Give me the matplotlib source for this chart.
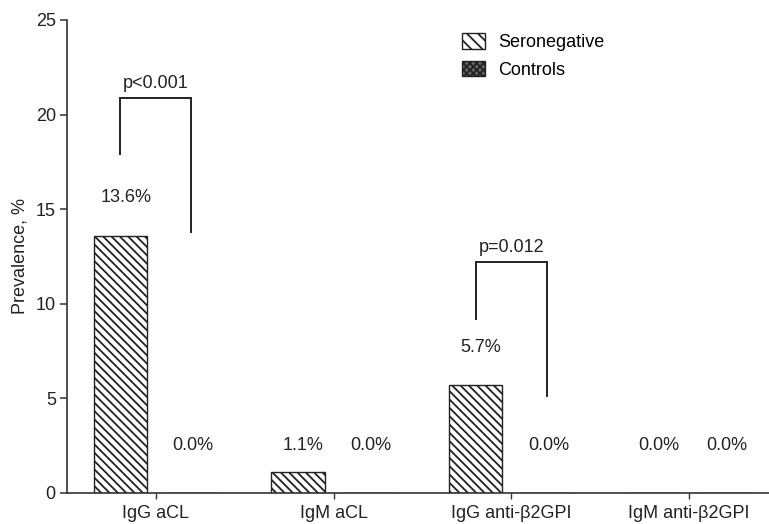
import numpy as np
import matplotlib
matplotlib.use("Agg")
import matplotlib.pyplot as plt
from matplotlib.patches import Patch

plt.rcParams['font.family'] = ['Liberation Sans', 'DejaVu Sans']
plt.rcParams['hatch.linewidth'] = 1.3
plt.rcParams['hatch.color'] = '#1a1a1a'

# data
categories = ['IgG aCL', 'IgM aCL', 'IgG anti-\u03b22GPI', 'IgM anti-\u03b22GPI']
seronegative = [13.6, 1.1, 5.7, 0.0]
controls = [0.0, 0.0, 0.0, 0.0]
# significance brackets: (category index, p label, top, left end, right end)
brackets = [
    (0, 'p<0.001', 20.9, 17.9, 13.8),
    (2, 'p=0.012', 12.2, 9.2, 5.1),
]

ink = '#222222'
fs = 13
fig = plt.figure(figsize=(7.69, 5.24), dpi=100)
ax = fig.add_axes([0.0871, 0.0592, 0.9129, 0.9027])

x = np.arange(len(categories))
off = 0.2
w = 0.3
ax.bar(x - off, seronegative, w, facecolor='white', edgecolor=ink,
       hatch='\\\\\\\\', linewidth=1.0, label='Seronegative')
ax.bar(x + off, controls, w, facecolor='white', edgecolor=ink,
       hatch='xxxxx', linewidth=1.0, label='Controls')

def lab_y(v):
    return v + 2.0 if v > 3 else 2.5

for i in range(len(categories)):
    ax.text(x[i] - off + 0.03, lab_y(seronegative[i]), f'{seronegative[i]:.1f}%',
            ha='center', va='center', fontsize=fs, color=ink)
    ax.text(x[i] + off + 0.01, lab_y(controls[i]), f'{controls[i]:.1f}%',
            ha='center', va='center', fontsize=fs, color=ink)

for ci, txt, top, yl, yr in brackets:
    xl, xr = x[ci] - off, x[ci] + off
    ax.plot([xl, xl, xr, xr], [yl, top, top, yr], color=ink, lw=1.4,
            solid_joinstyle='miter')
    ax.text(x[ci], top + 0.3, txt, ha='center', va='bottom', fontsize=fs, color=ink)

ax.set_xlim(-0.5, 3.45)
ax.set_ylim(0, 25)
ax.set_yticks([0, 5, 10, 15, 20, 25])
ax.set_xticks(x)
ax.set_xticklabels(categories)
ax.set_ylabel('Prevalence, %', fontsize=fs, color=ink, labelpad=5)

for s in ['top', 'right']:
    ax.spines[s].set_visible(False)
for s in ['left', 'bottom']:
    ax.spines[s].set_linewidth(1.2)
    ax.spines[s].set_color('#333333')
ax.tick_params(axis='y', length=5, width=1.1, colors='#333333', labelsize=fs,
               labelcolor=ink, pad=3)
ax.tick_params(axis='x', length=4, width=1.0, colors='#333333', labelsize=fs,
               labelcolor=ink, pad=5)

handles = [Patch(facecolor='white', edgecolor=ink, hatch='\\\\\\', label='Seronegative'),
           Patch(facecolor='#666666', edgecolor=ink, hatch='xxxxx', label='Controls')]
fig.legend(handles=handles, loc='upper left', bbox_to_anchor=(462 / 769, 1 - 33 / 524),
           frameon=False, fontsize=fs, handlelength=1.25, handleheight=0.95,
           borderpad=0, borderaxespad=0, labelspacing=0.55, handletextpad=0.75)

fig.savefig('out.png', dpi=100)
